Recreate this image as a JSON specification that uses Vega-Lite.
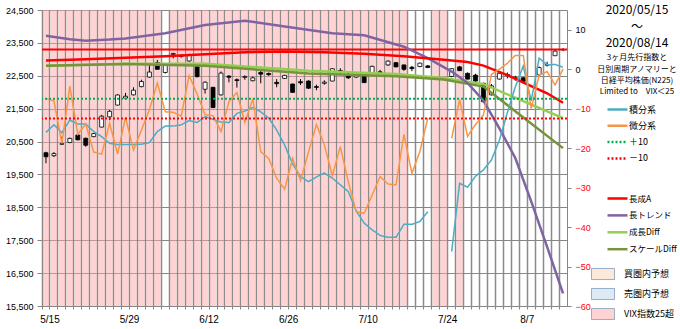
{
  "$schema": "https://vega.github.io/schema/vega-lite/v6.json",
  "width": 525,
  "height": 296,
  "autosize": {"type": "none"},
  "padding": {"left": 42, "top": 10, "right": 113, "bottom": 23},
  "background": "white",
  "config": {
    "view": {"stroke": null},
    "font": "Liberation Sans",
    "axis": {"labelFont": "Liberation Sans", "labelFontSize": 9, "labelColor": "#000000", "domainColor": "#868686", "tickColor": "#868686", "gridColor": "#868686", "title": null},
    "legend": {"labelFont": "Noto Sans CJK JP", "labelFontSize": 9, "labelColor": "#000000", "padding": 0}
  },
  "title": {
    "text": ["2020/05/15", "〜", "2020/08/14"],
    "subtitle": ["3ヶ月先行指数と", "日別周期アノマリーと", "日経平均株価(N225)", "Limited to　VIX＜25"],
    "orient": "top", "anchor": "end", "frame": "group", "align": "center",
    "dx": 70, "dy": 95,
    "font": "Noto Sans CJK JP", "fontSize": 12, "fontWeight": "normal", "lineHeight": 16.5, "color": "#000000",
    "subtitleFont": "Noto Sans CJK JP", "subtitleFontSize": 8, "subtitleLineHeight": 11.2, "subtitleColor": "#000000", "subtitlePadding": 4
  },
  "datasets": {
    "daily": [
      {"d":"5/15","o":20160,"h":20190,"l":19840,"c":20037,"vix":1,"積分系":-16.0,"微分系":-7.5},
      {"d":"5/18","o":20070,"h":20180,"l":20030,"c":20134,"vix":1,"積分系":-14.1,"微分系":-8.0},
      {"d":"5/19","o":20420,"h":20650,"l":20400,"c":20433,"vix":1,"積分系":-16.1,"微分系":-18.8},
      {"d":"5/20","o":20470,"h":20620,"l":20450,"c":20595,"vix":1,"積分系":-12.9,"微分系":-4.3},
      {"d":"5/21","o":20700,"h":20720,"l":20540,"c":20552,"vix":1,"積分系":-13.9,"微分系":-16.5},
      {"d":"5/22","o":20600,"h":20620,"l":20340,"c":20388,"vix":1,"積分系":-13.9,"微分系":-13.9},
      {"d":"5/25","o":20650,"h":20760,"l":20630,"c":20742,"vix":1,"積分系":-15.8,"微分系":-21.0},
      {"d":"5/26","o":20940,"h":21310,"l":20930,"c":21271,"vix":1,"積分系":-17.1,"微分系":-21.5},
      {"d":"5/27","o":21250,"h":21460,"l":21150,"c":21419,"vix":1,"積分系":-18.8,"微分系":-13.7},
      {"d":"5/28","o":21610,"h":21940,"l":21600,"c":21916,"vix":1,"積分系":-19.1,"微分系":-21.5},
      {"d":"5/29","o":21820,"h":21980,"l":21780,"c":21878,"vix":1,"積分系":-19.1,"微分系":-12.2},
      {"d":"6/1","o":21920,"h":22150,"l":21900,"c":22062,"vix":1,"積分系":-19.1,"微分系":-20.5},
      {"d":"6/2","o":22170,"h":22380,"l":22150,"c":22326,"vix":1,"積分系":-19.0,"微分系":-15.4},
      {"d":"6/3","o":22460,"h":22820,"l":22440,"c":22614,"vix":1,"積分系":-18.6,"微分系":-10.3},
      {"d":"6/4","o":22900,"h":22980,"l":22690,"c":22696,"vix":1,"積分系":-15.8,"微分系":-3.5},
      {"d":"6/5","o":22600,"h":22870,"l":22570,"c":22864,"vix":0,"積分系":-14.4,"微分系":-10.8},
      {"d":"6/8","o":23150,"h":23200,"l":23030,"c":23178,"vix":1,"積分系":-14.4,"微分系":-10.9},
      {"d":"6/9","o":23120,"h":23150,"l":23050,"c":23091,"vix":1,"積分系":-14.1,"微分系":-11.9},
      {"d":"6/10","o":22950,"h":23170,"l":22930,"c":23125,"vix":1,"積分系":-13.0,"微分系":-1.6},
      {"d":"6/11","o":22850,"h":22880,"l":22450,"c":22473,"vix":1,"積分系":-13.5,"微分系":-6.3},
      {"d":"6/12","o":22090,"h":22330,"l":21960,"c":22305,"vix":1,"積分系":-12.0,"微分系":-11.5},
      {"d":"6/15","o":22150,"h":22160,"l":21520,"c":21531,"vix":1,"積分系":-12.7,"微分系":-11.8},
      {"d":"6/16","o":21920,"h":22630,"l":21900,"c":22582,"vix":1,"積分系":-13.4,"微分系":-15.8},
      {"d":"6/17","o":22490,"h":22520,"l":22300,"c":22456,"vix":1,"積分系":-13.5,"微分系":-8.2},
      {"d":"6/18","o":22380,"h":22420,"l":22140,"c":22355,"vix":1,"積分系":-11.2,"微分系":-5.9},
      {"d":"6/19","o":22450,"h":22510,"l":22380,"c":22479,"vix":1,"積分系":-10.6,"微分系":-13.5},
      {"d":"6/22","o":22350,"h":22480,"l":22330,"c":22437,"vix":1,"積分系":-9.7,"微分系":-7.5},
      {"d":"6/23","o":22600,"h":22650,"l":22270,"c":22549,"vix":1,"積分系":-10.8,"微分系":-20.9},
      {"d":"6/24","o":22570,"h":22600,"l":22500,"c":22534,"vix":1,"積分系":-12.4,"微分系":-22.6},
      {"d":"6/25","o":22300,"h":22400,"l":22150,"c":22260,"vix":1,"積分系":-15.4,"微分系":-27.6},
      {"d":"6/26","o":22420,"h":22530,"l":22400,"c":22512,"vix":1,"積分系":-19.2,"微分系":-30.4},
      {"d":"6/29","o":22250,"h":22260,"l":21990,"c":21995,"vix":1,"積分系":-24.0,"微分系":-22.6},
      {"d":"6/30","o":22320,"h":22400,"l":22220,"c":22288,"vix":1,"積分系":-27.2,"微分系":-28.2},
      {"d":"7/1","o":22340,"h":22360,"l":22100,"c":22122,"vix":1,"積分系":-28.5,"微分系":-21.0},
      {"d":"7/2","o":22170,"h":22230,"l":22060,"c":22146,"vix":1,"積分系":-27.3,"微分系":-14.0},
      {"d":"7/3","o":22270,"h":22360,"l":22230,"c":22306,"vix":1,"積分系":-26.3,"微分系":-19.2},
      {"d":"7/6","o":22340,"h":22730,"l":22330,"c":22714,"vix":1,"積分系":-27.6,"微分系":-27.0},
      {"d":"7/7","o":22660,"h":22730,"l":22550,"c":22615,"vix":1,"積分系":-29.3,"微分系":-19.6},
      {"d":"7/8","o":22500,"h":22600,"l":22400,"c":22439,"vix":1,"積分系":-31.0,"微分系":-28.5},
      {"d":"7/9","o":22460,"h":22560,"l":22430,"c":22529,"vix":1,"積分系":-35.9,"微分系":-36.1},
      {"d":"7/10","o":22520,"h":22560,"l":22290,"c":22291,"vix":1,"積分系":-39.0,"微分系":-36.5},
      {"d":"7/13","o":22590,"h":22810,"l":22580,"c":22785,"vix":1,"積分系":-40.7,"微分系":-31.9},
      {"d":"7/14","o":22620,"h":22680,"l":22560,"c":22587,"vix":1,"積分系":-42.1,"微分系":-27.2},
      {"d":"7/15","o":22830,"h":22970,"l":22800,"c":22946,"vix":1,"積分系":-42.6,"微分系":-29.1},
      {"d":"7/16","o":22900,"h":22910,"l":22760,"c":22770,"vix":1,"積分系":-42.6,"微分系":-29.3},
      {"d":"7/17","o":22830,"h":22840,"l":22650,"c":22696,"vix":1,"積分系":-39.3,"微分系":-16.5},
      {"d":"7/20","o":22760,"h":22800,"l":22640,"c":22717,"vix":0,"積分系":-39.3,"微分系":-26.4},
      {"d":"7/21","o":22780,"h":22900,"l":22760,"c":22884,"vix":0,"積分系":-38.6,"微分系":-20.9},
      {"d":"7/22","o":22800,"h":22830,"l":22730,"c":22752,"vix":0,"積分系":-36.1,"微分系":-12.4},
      {"d":"7/23","o":null,"h":null,"l":null,"c":null,"vix":1,"積分系":null,"微分系":null},
      {"d":"7/24","o":null,"h":null,"l":null,"c":null,"vix":1,"積分系":null,"微分系":null},
      {"d":"7/27","o":22480,"h":22730,"l":22450,"c":22716,"vix":0,"積分系":-46.2,"微分系":-17.5},
      {"d":"7/28","o":22770,"h":22800,"l":22650,"c":22657,"vix":1,"積分系":-28.9,"微分系":-7.7},
      {"d":"7/29","o":22575,"h":22600,"l":22390,"c":22397,"vix":0,"積分系":-29.9,"微分系":-17.0},
      {"d":"7/30","o":22520,"h":22560,"l":22320,"c":22339,"vix":0,"積分系":-27.1,"微分系":-14.0},
      {"d":"7/31","o":22270,"h":22290,"l":21700,"c":21710,"vix":0,"積分系":-25.5,"微分系":-11.6},
      {"d":"8/3","o":21920,"h":22250,"l":21900,"c":22195,"vix":0,"積分系":-23.0,"微分系":-1.3},
      {"d":"8/4","o":22400,"h":22590,"l":22380,"c":22574,"vix":0,"積分系":-18.0,"微分系":0.0},
      {"d":"8/5","o":22540,"h":22600,"l":22420,"c":22515,"vix":0,"積分系":-11.0,"微分系":1.5},
      {"d":"8/6","o":22440,"h":22500,"l":22350,"c":22418,"vix":0,"積分系":-4.5,"微分系":3.5},
      {"d":"8/7","o":22440,"h":22460,"l":22260,"c":22330,"vix":0,"積分系":0.8,"微分系":3.5},
      {"d":"8/10","o":null,"h":null,"l":null,"c":null,"vix":0,"積分系":-8.0,"微分系":-10.0},
      {"d":"8/11","o":22530,"h":22780,"l":22500,"c":22750,"vix":0,"積分系":2.8,"微分系":-1.5},
      {"d":"8/12","o":22820,"h":22930,"l":22780,"c":22844,"vix":0,"積分系":1.1,"微分系":-0.6},
      {"d":"8/13","o":23110,"h":23280,"l":23100,"c":23250,"vix":0,"積分系":1.2,"微分系":-4.0},
      {"d":"8/14","o":23300,"h":23340,"l":23250,"c":23289,"vix":0,"積分系":0.5,"微分系":0.0}
    ],
    "trend": [
      {"d":"5/15","s":"成長Diff","v":0.9},
      {"d":"5/29","s":"成長Diff","v":1.4},
      {"d":"6/12","s":"成長Diff","v":1.4},
      {"d":"7/1","s":"成長Diff","v":-0.4},
      {"d":"7/16","s":"成長Diff","v":-1.2},
      {"d":"7/24","s":"成長Diff","v":-2.2},
      {"d":"7/31","s":"成長Diff","v":-3.8},
      {"d":"8/14","s":"成長Diff","v":-12.4},
      {"d":"5/15","s":"スケールDiff","v":0.9},
      {"d":"5/29","s":"スケールDiff","v":1.3},
      {"d":"6/12","s":"スケールDiff","v":0.9},
      {"d":"7/1","s":"スケールDiff","v":-1.1},
      {"d":"7/16","s":"スケールDiff","v":-1.8},
      {"d":"7/24","s":"スケールDiff","v":-2.6},
      {"d":"7/31","s":"スケールDiff","v":-4.4},
      {"d":"8/14","s":"スケールDiff","v":-20.0},
      {"d":"5/15","s":"長トレンド","v":8.5},
      {"d":"5/20","s":"長トレンド","v":7.6},
      {"d":"5/22","s":"長トレンド","v":7.2},
      {"d":"5/27","s":"長トレンド","v":7.5},
      {"d":"5/29","s":"長トレンド","v":7.8},
      {"d":"6/5","s":"長トレンド","v":9.1},
      {"d":"6/12","s":"長トレンド","v":11.2},
      {"d":"6/19","s":"長トレンド","v":12.3},
      {"d":"6/26","s":"長トレンド","v":10.8},
      {"d":"7/6","s":"長トレンド","v":9.1},
      {"d":"7/10","s":"長トレンド","v":8.6},
      {"d":"7/17","s":"長トレンド","v":5.7},
      {"d":"7/22","s":"長トレンド","v":2.8},
      {"d":"7/27","s":"長トレンド","v":-0.6},
      {"d":"7/29","s":"長トレンド","v":-3.5},
      {"d":"7/31","s":"長トレンド","v":-8.0},
      {"d":"8/4","s":"長トレンド","v":-15.0},
      {"d":"8/6","s":"長トレンド","v":-22.5},
      {"d":"8/10","s":"長トレンド","v":-33.5},
      {"d":"8/12","s":"長トレンド","v":-45.0},
      {"d":"8/14","s":"長トレンド","v":-56.8},
      {"d":"5/15","s":"長成A","v":2.2},
      {"d":"5/22","s":"長成A","v":2.5},
      {"d":"5/29","s":"長成A","v":2.9},
      {"d":"6/5","s":"長成A","v":3.3},
      {"d":"6/12","s":"長成A","v":3.8},
      {"d":"6/19","s":"長成A","v":4.3},
      {"d":"6/26","s":"長成A","v":4.5},
      {"d":"7/3","s":"長成A","v":4.3},
      {"d":"7/10","s":"長成A","v":3.9},
      {"d":"7/17","s":"長成A","v":3.3},
      {"d":"7/24","s":"長成A","v":2.4},
      {"d":"7/29","s":"長成A","v":1.8},
      {"d":"7/31","s":"長成A","v":0.9},
      {"d":"8/5","s":"長成A","v":-1.5},
      {"d":"8/10","s":"長成A","v":-4.3},
      {"d":"8/12","s":"長成A","v":-6.1},
      {"d":"8/14","s":"長成A","v":-8.5}
    ]
  },
  "data": {"name": "daily"},
  "resolve": {"scale": {"y": "independent"}},
  "layer": [
    {
      "layer": [
        {
          "transform": [{"filter": "datum.vix == 1"}],
          "mark": {"type": "bar", "opacity": 0.5, "width": {"band": 0.78}},
          "encoding": {
            "x": {"field": "d", "type": "nominal",
              "scale": {"domain": ["5/15","5/18","5/19","5/20","5/21","5/22","5/25","5/26","5/27","5/28","5/29","6/1","6/2","6/3","6/4","6/5","6/8","6/9","6/10","6/11","6/12","6/15","6/16","6/17","6/18","6/19","6/22","6/23","6/24","6/25","6/26","6/29","6/30","7/1","7/2","7/3","7/6","7/7","7/8","7/9","7/10","7/13","7/14","7/15","7/16","7/17","7/20","7/21","7/22","7/23","7/24","7/27","7/28","7/29","7/30","7/31","8/3","8/4","8/5","8/6","8/7","8/10","8/11","8/12","8/13","8/14"], "paddingInner": 0, "paddingOuter": 0},
              "axis": {"bandPosition": 0, "grid": true, "gridColor": "#8c8c8c", "gridWidth": 1.5, "ticks": true, "tickSize": 3, "labelExpr": "indexof(['5/15','5/29','6/12','6/26','7/10','7/24','8/7'], datum.value) >= 0 ? datum.value : ''", "labelOffset": 4, "labelAngle": 0, "labelPadding": 5, "labelFontSize": 10, "labelOverlap": false, "title": null}},
            "fill": {"datum": "VIX指数25超", "type": "nominal",
              "scale": {"domain": ["買圏内予想", "売圏内予想", "VIX指数25超"], "range": ["#FBD5B5", "#BDD7EF", "#FFA8A8"]},
              "legend": {"orient": "none", "legendX": 549, "legendY": 252, "title": null, "symbolType": "M-1,-0.48H1V0.48H-1Z", "symbolSize": 529, "symbolStrokeColor": "#2F5F8F", "symbolStrokeWidth": 1, "labelOffset": 9, "rowPadding": 0, "labelFontSize": 9}}
          }
        },
        {
          "transform": [{"filter": "isValid(datum.c)"}],
          "mark": {"type": "rule", "color": "#000000", "strokeWidth": 1},
          "encoding": {
            "x": {"field": "d", "type": "nominal",
              "scale": {"domain": ["5/15","5/18","5/19","5/20","5/21","5/22","5/25","5/26","5/27","5/28","5/29","6/1","6/2","6/3","6/4","6/5","6/8","6/9","6/10","6/11","6/12","6/15","6/16","6/17","6/18","6/19","6/22","6/23","6/24","6/25","6/26","6/29","6/30","7/1","7/2","7/3","7/6","7/7","7/8","7/9","7/10","7/13","7/14","7/15","7/16","7/17","7/20","7/21","7/22","7/23","7/24","7/27","7/28","7/29","7/30","7/31","8/3","8/4","8/5","8/6","8/7","8/10","8/11","8/12","8/13","8/14"], "paddingInner": 0, "paddingOuter": 0}},
            "y": {"field": "l", "type": "quantitative",
              "scale": {"domain": [15500, 24500], "nice": false, "zero": false},
              "axis": {"values": [15500,16500,17500,18500,19500,20500,21500,22500,23500,24500], "labelExpr": "format(datum.value, ',')", "grid": true, "gridColor": "#868686", "tickSize": 5, "labelPadding": 4, "title": null}},
            "y2": {"field": "h"}
          }
        },
        {
          "transform": [{"filter": "isValid(datum.c)"}],
          "mark": {"type": "bar", "width": {"band": 0.5}, "stroke": "#000000", "strokeWidth": 0.8},
          "encoding": {
            "x": {"field": "d", "type": "nominal",
              "scale": {"domain": ["5/15","5/18","5/19","5/20","5/21","5/22","5/25","5/26","5/27","5/28","5/29","6/1","6/2","6/3","6/4","6/5","6/8","6/9","6/10","6/11","6/12","6/15","6/16","6/17","6/18","6/19","6/22","6/23","6/24","6/25","6/26","6/29","6/30","7/1","7/2","7/3","7/6","7/7","7/8","7/9","7/10","7/13","7/14","7/15","7/16","7/17","7/20","7/21","7/22","7/23","7/24","7/27","7/28","7/29","7/30","7/31","8/3","8/4","8/5","8/6","8/7","8/10","8/11","8/12","8/13","8/14"], "paddingInner": 0, "paddingOuter": 0}},
            "y": {"field": "o", "type": "quantitative",
              "scale": {"domain": [15500, 24500], "nice": false, "zero": false},
              "axis": {"values": [15500,16500,17500,18500,19500,20500,21500,22500,23500,24500], "labelExpr": "format(datum.value, ',')", "grid": true, "gridColor": "#868686", "tickSize": 5, "labelPadding": 4, "title": null}},
            "y2": {"field": "c"},
            "fill": {"condition": {"test": "datum.c >= datum.o", "value": "#FFFFFF"}, "value": "#000000"}
          }
        }
      ]
    },
    {
      "layer": [
        {
          "data": {"values": [{}]},
          "mark": {"type": "rule", "color": "#FF0000", "strokeWidth": 2},
          "encoding": {
            "y": {"datum": 5, "type": "quantitative",
              "scale": {"domain": [-60, 15], "nice": false, "zero": false},
              "axis": {"orient": "right", "values": [-60,-55,-50,-45,-40,-35,-30,-25,-20,-15,-10,-5,0,5,10,15], "grid": false, "tickSize": 4, "labelPadding": 4, "labelFontSize": 9, "labelColor": {"condition": {"test": "datum.value < 0", "value": "#FF0000"}, "value": "#000000"}, "title": null}}
          }
        },
        {
          "data": {"name": "trend"},
          "mark": {"type": "line", "strokeWidth": 2.5},
          "encoding": {
            "x": {"field": "d", "type": "nominal",
              "scale": {"domain": ["5/15","5/18","5/19","5/20","5/21","5/22","5/25","5/26","5/27","5/28","5/29","6/1","6/2","6/3","6/4","6/5","6/8","6/9","6/10","6/11","6/12","6/15","6/16","6/17","6/18","6/19","6/22","6/23","6/24","6/25","6/26","6/29","6/30","7/1","7/2","7/3","7/6","7/7","7/8","7/9","7/10","7/13","7/14","7/15","7/16","7/17","7/20","7/21","7/22","7/23","7/24","7/27","7/28","7/29","7/30","7/31","8/3","8/4","8/5","8/6","8/7","8/10","8/11","8/12","8/13","8/14"], "paddingInner": 0, "paddingOuter": 0}},
            "y": {"field": "v", "type": "quantitative", "scale": {"domain": [-60, 15], "nice": false, "zero": false}},
            "stroke": {"field": "s", "type": "nominal",
              "scale": {"domain": ["長成A", "長トレンド", "成長Diff", "スケールDiff"], "range": ["#FF0000", "#8064A2", "#92D050", "#77933C"]},
              "legend": {"orient": "none", "legendX": 569, "legendY": 182, "title": null, "symbolType": "M-2,0H2", "symbolSize": 100, "symbolStrokeWidth": 2.5, "symbolFillColor": "transparent", "labelOffset": 5, "rowPadding": 4.9, "labelFontSize": 8.5}},
            "order": {"value": null}
          }
        },
        {
          "transform": [{"fold": ["積分系", "微分系"], "as": ["s", "v"]}],
          "mark": {"type": "line", "strokeWidth": 1.5, "invalid": "break-paths-show-domains"},
          "encoding": {
            "x": {"field": "d", "type": "nominal",
              "scale": {"domain": ["5/15","5/18","5/19","5/20","5/21","5/22","5/25","5/26","5/27","5/28","5/29","6/1","6/2","6/3","6/4","6/5","6/8","6/9","6/10","6/11","6/12","6/15","6/16","6/17","6/18","6/19","6/22","6/23","6/24","6/25","6/26","6/29","6/30","7/1","7/2","7/3","7/6","7/7","7/8","7/9","7/10","7/13","7/14","7/15","7/16","7/17","7/20","7/21","7/22","7/23","7/24","7/27","7/28","7/29","7/30","7/31","8/3","8/4","8/5","8/6","8/7","8/10","8/11","8/12","8/13","8/14"], "paddingInner": 0, "paddingOuter": 0}},
            "y": {"field": "v", "type": "quantitative", "scale": {"domain": [-60, 15], "nice": false, "zero": false}},
            "color": {"field": "s", "type": "nominal",
              "scale": {"domain": ["積分系", "微分系", "＋10", "－10"], "range": ["#4BACC6", "#F79646", "#00B050", "#FF0000"]},
              "legend": {"orient": "none", "legendX": 569, "legendY": 93, "title": null, "symbolType": "M-2,0H2", "symbolSize": 100, "symbolStrokeWidth": 2.5, "symbolFillColor": "transparent", "labelOffset": 5, "rowPadding": 4.3, "labelFontSize": 9}},
            "strokeDash": {"field": "s", "type": "nominal",
              "scale": {"domain": ["積分系", "微分系", "＋10", "－10"], "range": [[1, 0], [1, 0], [2, 2], [2, 2]]},
              "legend": {"orient": "none", "legendX": 569, "legendY": 93, "title": null, "symbolType": "M-2,0H2", "symbolSize": 100, "symbolStrokeWidth": 2.5, "symbolFillColor": "transparent", "labelOffset": 5, "rowPadding": 4.3, "labelFontSize": 9}},
            "order": {"value": null}
          }
        },
        {
          "data": {"values": [{}]},
          "mark": {"type": "rule", "strokeWidth": 2},
          "encoding": {
            "y": {"datum": -7.5, "type": "quantitative", "scale": {"domain": [-60, 15], "nice": false, "zero": false}},
            "color": {"datum": "＋10", "type": "nominal"},
            "strokeDash": {"datum": "＋10", "type": "nominal"}
          }
        },
        {
          "data": {"values": [{}]},
          "mark": {"type": "rule", "strokeWidth": 2},
          "encoding": {
            "y": {"datum": -12.5, "type": "quantitative", "scale": {"domain": [-60, 15], "nice": false, "zero": false}},
            "color": {"datum": "－10", "type": "nominal"},
            "strokeDash": {"datum": "－10", "type": "nominal"}
          }
        }
      ]
    }
  ]
}
